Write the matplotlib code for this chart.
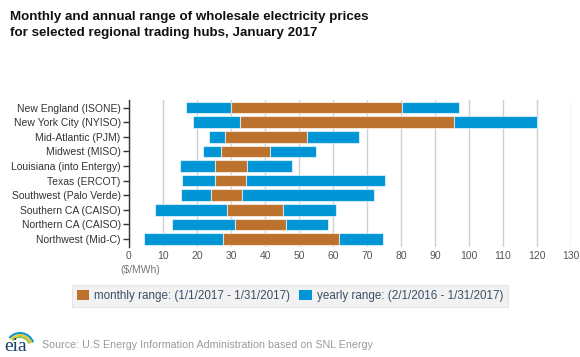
import matplotlib
matplotlib.use("Agg")
import matplotlib.pyplot as plt
from matplotlib.patches import Patch, Arc
import numpy as np

plt.rcParams['font.family'] = ['Liberation Sans', 'DejaVu Sans']

hubs = ["New England (ISONE)", "New York City (NYISO)", "Mid-Atlantic (PJM)",
        "Midwest (MISO)", "Louisiana (into Entergy)", "Texas (ERCOT)",
        "Southwest (Palo Verde)", "Southern CA (CAISO)", "Northern CA (CAISO)",
        "Northwest (Mid-C)"]
year_low = [16.7, 18.9, 23.4, 21.9, 15.0, 15.5, 15.2, 7.7, 12.5, 4.5]
month_low = [30.1, 32.6, 28.2, 27.1, 25.3, 25.3, 24.2, 28.7, 31.2, 27.5]
month_high = [80.4, 95.6, 52.3, 41.4, 34.8, 34.3, 33.3, 45.2, 46.3, 61.7]
year_high = [97.2, 120.0, 67.7, 54.9, 48.0, 75.3, 72.0, 60.8, 58.4, 74.7]
xticks = list(range(0, 131, 10))

orange = '#BC722D'
blue = '#0096D6'
edge = (1, 1, 1, 0.6)

fig = plt.figure(figsize=(5.8, 3.57), dpi=100)
ax = fig.add_axes([129 / 580, 1 - 247 / 357, 442 / 580, 147 / 357])

y = np.arange(len(hubs))
yl = np.array(year_low)
ml = np.array(month_low)
mh = np.array(month_high)
yh = np.array(year_high)

h = 0.8
ax.barh(y, ml - yl, left=yl, height=h, color=blue, edgecolor=edge, linewidth=0.8, zorder=3)
ax.barh(y, mh - ml, left=ml, height=h, color=orange, edgecolor=edge, linewidth=0.8, zorder=3)
ax.barh(y, yh - mh, left=mh, height=h, color=blue, edgecolor=edge, linewidth=0.8, zorder=3)

ax.set_xlim(0, 130)
ax.set_ylim(9.55, -0.52)
ax.set_xticks(xticks)
ax.set_yticks(y)
ax.set_yticklabels(hubs)
ax.grid(axis='x', color='#D0D0D0', linewidth=1, zorder=0)
for s in ['top', 'right', 'bottom']:
    ax.spines[s].set_visible(False)
ax.spines['left'].set_color('#333333')
ax.spines['left'].set_linewidth(1)
ax.tick_params(axis='y', length=4, width=1, color='#333333', labelsize=7.5,
               labelcolor='#333333', pad=2)
ax.tick_params(axis='x', length=0, labelsize=7.5, labelcolor='#555555', pad=3)

fig.text(140 / 580, 1 - 270 / 357, '($/MWh)', fontsize=7.5, color='#777777',
         ha='center', va='center')

fig.text(10 / 580, 1 - 11 / 357,
         'Monthly and annual range of wholesale electricity prices\n'
         'for selected regional trading hubs, January 2017',
         fontsize=9.6, fontweight='bold', color='#111111', va='top', ha='left',
         linespacing=1.45)

handles = [Patch(facecolor=orange, edgecolor='none'), Patch(facecolor=blue, edgecolor='none')]
leg = fig.legend(handles, ['monthly range: (1/1/2017 - 1/31/2017)',
                           'yearly range: (2/1/2016 - 1/31/2017)'],
                 loc='center', bbox_to_anchor=(290 / 580, 1 - 296 / 357), ncol=2,
                 fontsize=8.4, frameon=True, fancybox=False, handlelength=1.1,
                 handleheight=1.0, handletextpad=0.4, columnspacing=0.8,
                 borderpad=0.4, borderaxespad=0)
leg.get_frame().set_facecolor('#EFEFEF')
leg.get_frame().set_edgecolor('#E2E2E2')
leg.get_frame().set_linewidth(0.8)
for t in leg.get_texts():
    t.set_color('#3D4F66')

fig.text(42 / 580, 1 - 345 / 357,
         'Source: U.S Energy Information Administration based on SNL Energy',
         fontsize=7.7, color='#9A9A9A', va='center', ha='left')

# eia logo
fig.text(4 / 580, 1 - 351 / 357, 'eia', fontsize=14, family='Liberation Serif',
         color='#1A3C6E', va='baseline', ha='left')
lax = fig.add_axes([0, 0, 40 / 580, 32 / 357])
lax.set_xlim(0, 40)
lax.set_ylim(0, 32)
lax.axis('off')
for r, c in [(10, '#8CC63F'), (12, '#F2C12E'), (14, '#0096D6')]:
    lax.add_patch(Arc((20, 10), 2 * r, 2 * r, theta1=20, theta2=140, color=c, lw=1.4))

fig.savefig('out.png', dpi=100)
